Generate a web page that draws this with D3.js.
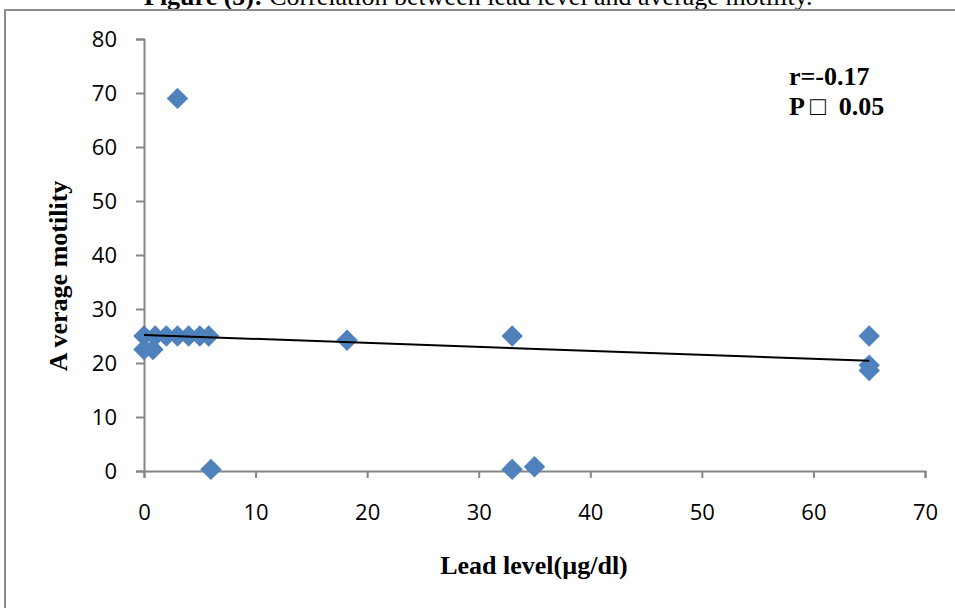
<!DOCTYPE html>
<html>
<head>
<meta charset="utf-8">
<script src="https://cdn.jsdelivr.net/npm/d3@7"></script>
<style>
  body { margin: 0; background: #fff; }
  .tick text { font-family: "Open Sans", sans-serif; font-size: 22px; fill: #000; }
  .title { font-family: "Liberation Serif", serif; font-weight: bold; font-size: 26px; }
</style>
</head>
<body>
<div id="container"></div>
<script>
// lead level (x) vs average motility (y)
let leadLevel = [3, 0, 1, 2, 3, 4, 5, 5.8, 0, 0.8, 18.2, 33, 33, 35, 6, 65, 65, 65];
let motility = [69, 25, 25, 25, 25, 25, 25, 25, 22.5, 22.5, 24.2, 25, 0.3, 0.8, 0.3, 25, 19.6, 18.6];
// linear trend line end points
let trendX = [0, 65];
let trendY = [25.2, 20.4];
let xTicks = [0, 10, 20, 30, 40, 50, 60, 70];
let yTicks = [0, 10, 20, 30, 40, 50, 60, 70, 80];

let width = 955;
let height = 608;
let axisColor = '#868686';

let svg = d3.select('#container').append('svg')
    .attr('width', width).attr('height', height);

// caption, cut off at the top of the picture
let caption = svg.append('text')
    .attr('x', 144).attr('y', 5)
    .attr('font-family', 'Liberation Serif, serif').attr('font-size', 26);
caption.append('tspan').attr('font-weight', 'bold').text('Figure (5):');
caption.append('tspan').text(' Correlation between lead level and average motility.');

// chart frame
svg.append('path')
    .attr('d', 'M5,' + height + 'V10H' + width)
    .attr('fill', 'none').attr('stroke', '#8c8c8c').attr('stroke-width', 2);

let xScale = d3.scaleLinear().domain([0, 70]).range([144, 925]);
let yScale = d3.scaleLinear().domain([0, 80]).range([471, 39]);

let xAxis = svg.append('g')
    .attr('transform', 'translate(0,' + yScale(0) + ')')
    .call(d3.axisBottom(xScale).tickValues(xTicks).tickSize(7).tickPadding(22));
let yAxis = svg.append('g')
    .attr('transform', 'translate(' + xScale(0) + ',0)')
    .call(d3.axisLeft(yScale).tickValues(yTicks).tickSize(8).tickPadding(19));

[xAxis, yAxis].forEach(a => {
    a.select('.domain').attr('stroke', axisColor).attr('stroke-width', 2);
    a.selectAll('.tick line').attr('stroke', axisColor).attr('stroke-width', 2);
});
xAxis.selectAll('.tick text').attr('dy', '0.9em');

let line = d3.line().x(d => xScale(d[0])).y(d => yScale(d[1]));

// diamond markers
let diamond = d3.symbol(d3.symbolSquare, 230);
svg.append('g').selectAll('path')
    .data(d3.zip(leadLevel, motility)).enter()
    .append('path')
    .attr('d', diamond)
    .attr('transform', d => 'translate(' + xScale(d[0]) + ',' + yScale(d[1]) + ') rotate(45)')
    .attr('fill', '#4f81bd');

// trend line over the markers
svg.append('path')
    .datum(d3.zip(trendX, trendY))
    .attr('d', line)
    .attr('fill', 'none').attr('stroke', '#000').attr('stroke-width', 2);

// axis titles
svg.append('text').attr('class', 'title')
    .attr('x', 534).attr('y', 574).attr('text-anchor', 'middle')
    .text('Lead level(µg/dl)');
svg.append('text').attr('class', 'title')
    .attr('transform', 'translate(67,276) rotate(-90)')
    .attr('text-anchor', 'middle')
    .text('A verage motility');

// correlation note
svg.append('text').attr('class', 'title')
    .attr('x', 789).attr('y', 85).text('r=-0.17');
svg.append('text').attr('class', 'title')
    .attr('x', 789).attr('y', 115).attr('xml:space', 'preserve').text('P \u25a1  0.05');
</script>
</body>
</html>
